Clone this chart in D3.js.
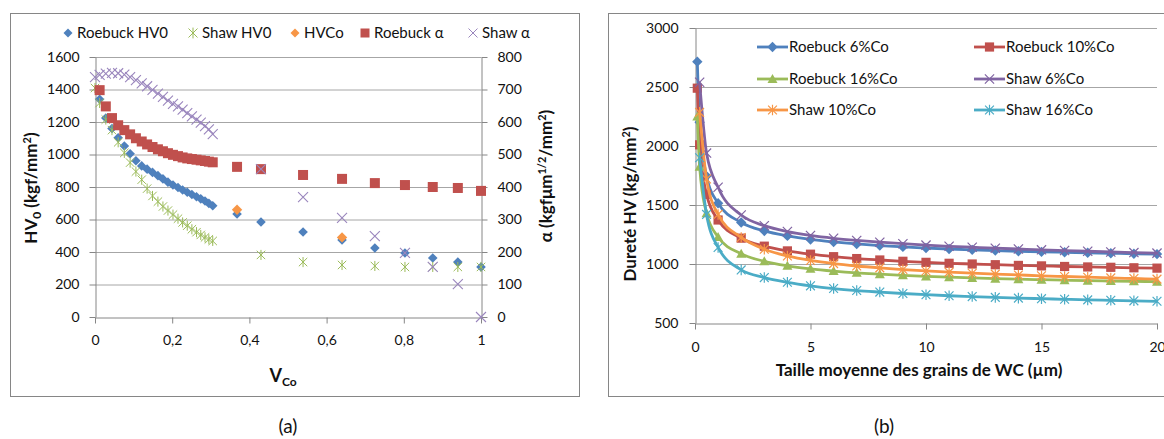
<!DOCTYPE html>
<html><head><meta charset="utf-8">
<script src="https://cdn.jsdelivr.net/npm/d3@7"></script>
<style>
body{margin:0;background:#fff}
svg{font-family:Lato,'Open Sans',sans-serif}
</style>
</head><body>
<svg id="c" width="1164" height="439"></svg>
<script>
// ---------- Chart (a) data ----------
const vcoDense = [0, 0.012, 0.028, 0.044, 0.060, 0.076, 0.091, 0.106, 0.121, 0.135, 0.149, 0.163, 0.176, 0.189, 0.202, 0.215, 0.227, 0.239, 0.251, 0.263, 0.274, 0.285, 0.295, 0.305];
const vcoSparse = [0.368, 0.43, 0.539, 0.64, 0.725, 0.803, 0.875, 0.94, 1.0];

const roebuckHV0Dense = [1340,1225,1160,1103,1052,1005,962,930,910,890,870,850,830,812,797,782,768,754,740,727,714,699,685];
const roebuckHV0Sparse = [634,585,523,474,425,394,363,338,308];
const shawHV0Dense = [1409,1317,1215,1150,1075,1010,950,895,845,790,745,710,680,655,630,605,582,562,540,522,505,490,478,468];
const shawHV0Sparse = [382,338,320,314,308,308,308,308];
const hvCoV = [0.368, 0.64];
const hvCoValues = [660, 490];
const roebuckAlphaDense = [698,648,612,590,575,562,550,540,531,523,516,510,504,499,495,491,488,486,484,482,480,478,476];
const roebuckAlphaSparse = [462,455,437,425,412,406,400,397,388];
const shawAlphaDense = [738,745,749,751,750,746,738,729,719,710,699,687,677,666,656,648,638,627,617,607,598,587,577,563];
const shawAlphaSparse = [455,369,305,249,197,154,101,0];

const hvTicks = [0,200,400,600,800,1000,1200,1400,1600];
const alphaTicks = [0,100,200,300,400,500,600,700,800];
const vcoTicks = [0,0.2,0.4,0.6,0.8,1];
const legendA = ["Roebuck HV0","Shaw HV0","HVCo","Roebuck α","Shaw α"];

// ---------- Chart (b) data ----------
const grainRoebuck = [0.1,0.2,0.5,1,2,3,4,5,6,7,8,9,10,11,12,13,14,15,16,17,18,19,20];
const grainShaw = [0.2,0.5,1,2,3,4,5,6,7,8,9,10,11,12,13,14,15,16,17,18,19,20];
const roebuck6 = [2715,2201,1745,1515,1352,1280,1238,1208,1187,1170,1156,1145,1135,1127,1120,1114,1108,1103,1099,1095,1091,1087,1084];
const roebuck10 = [2490,2010,1590,1373,1219,1151,1111,1083,1062,1046,1034,1023,1014,1006,1000,994,988,984,979,975,972,968,965];
const roebuck16 = [2250,1825,1430,1229,1086,1023,985,959,940,925,914,904,895,888,882,876,871,867,863,859,856,853,850];
const shaw6 = [2540,1940,1650,1415,1325,1275,1242,1218,1200,1185,1172,1160,1150,1142,1134,1127,1120,1114,1108,1102,1097,1092];
const shaw10 = [2285,1720,1420,1225,1125,1068,1030,1003,983,967,953,941,931,922,914,907,900,894,888,882,877,872];
const shaw16 = [1900,1420,1140,950,885,845,815,792,775,762,750,740,731,724,717,711,706,701,696,692,688,684];
const hardTicks = [500,1000,1500,2000,2500,3000];
const grainTicks = [0,5,10,15,20];
const legendB = ["Roebuck 6%Co","Roebuck 10%Co","Roebuck 16%Co","Shaw 6%Co","Shaw 10%Co","Shaw 16%Co"];

// ---------- helpers ----------
const svg = d3.select('#c');
const AX = '#868686', GRID = '#a6a6a6', TXT = '#111';
const C = {blue:'#4F81BD', red:'#C0504D', green:'#9BBB59', purple:'#8064A2', orange:'#F79646', teal:'#4BACC6'};
const comma = d3.formatLocale({decimal:",", thousands:"", grouping:[3], currency:["",""]}).format("~g");
const plain = d3.format("d");

function marker(g, type, x, y, s, color, sw){
  sw = sw || 1.2;
  if(type==='diamond'){
    g.append('path').attr('d',`M${x},${y-s}L${x+s},${y}L${x},${y+s}L${x-s},${y}Z`).attr('fill',color);
  } else if(type==='square'){
    g.append('rect').attr('x',x-s).attr('y',y-s).attr('width',2*s).attr('height',2*s).attr('fill',color);
  } else if(type==='triangle'){
    g.append('path').attr('d',`M${x},${y-s}L${x+s},${y+s*0.8}L${x-s},${y+s*0.8}Z`).attr('fill',color);
  } else if(type==='x'){
    g.append('path').attr('d',`M${x-s},${y-s}L${x+s},${y+s}M${x-s},${y+s}L${x+s},${y-s}`).attr('stroke',color).attr('stroke-width',sw).attr('fill','none');
  } else if(type==='star'){
    g.append('path').attr('d',`M${x-s},${y-s}L${x+s},${y+s}M${x-s},${y+s}L${x+s},${y-s}M${x},${y-s*1.2}L${x},${y+s*1.2}`).attr('stroke',color).attr('stroke-width',sw).attr('fill','none');
  }
}
function styleAxis(g){
  g.selectAll('path.domain').attr('stroke',AX);
  g.selectAll('.tick line').attr('stroke',AX);
  g.selectAll('.tick text').attr('fill',TXT).attr('font-size',14).attr('font-family','Lato, sans-serif');
}

// frames
svg.append('rect').attr('x',10.5).attr('y',13.5).attr('width',569).attr('height',383).attr('fill','none').attr('stroke',AX);
svg.append('rect').attr('x',608.5).attr('y',13.5).attr('width',600).attr('height',383).attr('fill','none').attr('stroke',AX);

// ================= Chart (a) =================
const xA = d3.scaleLinear([0,1],[95,481]);
const yA = d3.scaleLinear([0,1600],[317,57]);
const yA2 = d3.scaleLinear([0,800],[317,57]);
const gA = svg.append('g');

gA.selectAll('line.grid').data(hvTicks.slice(1)).join('line')
  .attr('x1',xA(0)).attr('x2',xA(1)).attr('y1',d=>yA(d)+0.5).attr('y2',d=>yA(d)+0.5)
  .attr('stroke',GRID);

const axL = gA.append('g').attr('transform',`translate(${xA(0)+0.5},0)`)
  .call(d3.axisLeft(yA).tickValues(hvTicks).tickFormat(plain).tickSizeInner(6).tickSizeOuter(0).tickPadding(10));
styleAxis(axL);
const axR = gA.append('g').attr('transform',`translate(${xA(1)+0.5},0)`)
  .call(d3.axisRight(yA2).tickValues(alphaTicks).tickFormat(plain).tickSizeInner(6).tickSizeOuter(0).tickPadding(10));
styleAxis(axR);
const axB = gA.append('g').attr('transform',`translate(0,${yA(0)+0.5})`)
  .call(d3.axisBottom(xA).tickValues(vcoTicks).tickFormat(comma).tickSizeInner(6).tickSizeOuter(0).tickPadding(12));
styleAxis(axB);

const seriesA = [
  {v: vcoDense.slice(1).concat(vcoSparse), y: roebuckHV0Dense.concat(roebuckHV0Sparse), sc: yA, type:'diamond', s:4.8, color:C.blue},
  {v: vcoDense.concat(vcoSparse.slice(1)), y: shawHV0Dense.concat(shawHV0Sparse), sc: yA, type:'star', s:4.2, color:'#9BBB59', sw:1},
  {v: hvCoV, y: hvCoValues, sc: yA, type:'diamond', s:5.2, color:C.orange},
  {v: vcoDense.slice(1).concat(vcoSparse), y: roebuckAlphaDense.concat(roebuckAlphaSparse), sc: yA2, type:'square', s:5, color:C.red},
  {v: vcoDense.concat(vcoSparse.slice(1)), y: shawAlphaDense.concat(shawAlphaSparse), sc: yA2, type:'x', s:5, color:'#9a86bd', sw:1.1}
];
seriesA.forEach(S=>{
  const g = gA.append('g');
  S.v.forEach((v,i)=>marker(g,S.type,xA(v),S.sc(S.y[i]),S.s,S.color,S.sw));
});

// legend (a)
const legAx = [68,193,295,365,473];
const legAtype = ['diamond','star','diamond','square','x'];
const legAcol = [C.blue,'#9BBB59',C.orange,C.red,'#9a86bd'];
legendA.forEach((t,i)=>{
  const g = gA.append('g');
  marker(g, legAtype[i], legAx[i], 33, 4.5, legAcol[i], 1);
  g.append('text').attr('x',legAx[i]+9).attr('y',38).attr('font-size',15).attr('fill',TXT).text(t);
});

// axis titles (a)
const tl = gA.append('text').attr('transform','translate(37,188) rotate(-90)').attr('text-anchor','middle')
  .attr('font-weight','bold').attr('font-size',17).attr('fill',TXT);
tl.append('tspan').text('HV');
tl.append('tspan').attr('font-size',12).attr('dy',4).text('0');
tl.append('tspan').attr('dy',-4).text(' (kgf/mm');
tl.append('tspan').attr('font-size',11).attr('dy',-6).text('2');
tl.append('tspan').attr('dy',6).text(')');

const tr = gA.append('text').attr('transform','translate(552,176) rotate(-90)').attr('text-anchor','middle')
  .attr('font-weight','bold').attr('font-size',17).attr('fill',TXT);
tr.append('tspan').text('α (kgfμm');
tr.append('tspan').attr('font-size',11).attr('dy',-6).text('1/2');
tr.append('tspan').attr('dy',6).text('/mm');
tr.append('tspan').attr('font-size',11).attr('dy',-6).text('2');
tr.append('tspan').attr('dy',6).text(')');

const tx = gA.append('text').attr('x',283).attr('y',382).attr('text-anchor','middle')
  .attr('font-weight','bold').attr('font-size',18).attr('fill',TXT);
tx.append('tspan').text('V');
tx.append('tspan').attr('font-size',12).attr('dy',4).text('Co');

svg.append('text').attr('x',288).attr('y',433).attr('text-anchor','middle').attr('font-size',19).attr('fill',TXT).text('(a)');

// ================= Chart (b) =================
const xB = d3.scaleLinear([0,20],[695,1157]);
const yB = d3.scaleLinear([500,3000],[323,28]);
const gB = svg.append('g');

gB.selectAll('line.grid').data(hardTicks.slice(1)).join('line')
  .attr('x1',xB(0)).attr('x2',xB(20)).attr('y1',d=>Math.round(yB(d))+0.5).attr('y2',d=>Math.round(yB(d))+0.5)
  .attr('stroke',GRID);

const bL = gB.append('g').attr('transform',`translate(${xB(0)+0.5},0)`)
  .call(d3.axisLeft(yB).tickValues(hardTicks).tickFormat(plain).tickSizeInner(6).tickSizeOuter(0).tickPadding(11));
styleAxis(bL);
const bB = gB.append('g').attr('transform',`translate(0,${yB(500)+0.5})`)
  .call(d3.axisBottom(xB).tickValues(grainTicks).tickFormat(plain).tickSizeInner(6).tickSizeOuter(0).tickPadding(13));
styleAxis(bB);

const seriesB = [
  {x: grainRoebuck, y: roebuck6, type:'diamond', s:5.2, color:C.blue},
  {x: grainRoebuck, y: roebuck10, type:'square', s:4.6, color:C.red},
  {x: grainRoebuck, y: roebuck16, type:'triangle', s:5, color:C.green},
  {x: grainShaw, y: shaw6, type:'x', s:4.6, color:C.purple, sw:1.2},
  {x: grainShaw, y: shaw10, type:'star', s:4.4, color:C.orange, sw:1.2},
  {x: grainShaw, y: shaw16, type:'star', s:4.4, color:C.teal, sw:1.2}
];
const lineB = d3.line().curve(d3.curveMonotoneX);
seriesB.forEach(S=>{
  const g = gB.append('g');
  const pts = S.x.map((x,i)=>[xB(x), yB(S.y[i])]);
  g.append('path').attr('d',lineB(pts)).attr('fill','none').attr('stroke',S.color).attr('stroke-width',2.8);
  pts.forEach(p=>marker(g,S.type,p[0],p[1],S.s,S.color,S.sw));
});

// legend (b)
const legBx = [757,974];
const legBy = [47,79,110];
legendB.forEach((t,i)=>{
  const S = seriesB[i];
  const col = i%2, row = Math.floor(i/2);
  const x0 = legBx[col], y0 = legBy[row];
  const g = gB.append('g');
  g.append('line').attr('x1',x0).attr('x2',x0+31).attr('y1',y0).attr('y2',y0).attr('stroke',S.color).attr('stroke-width',2.8);
  marker(g,S.type,x0+15.5,y0,S.s,S.color,S.sw);
  g.append('text').attr('x',x0+32).attr('y',y0+5).attr('font-size',15).attr('fill',TXT).text(t);
});

const tbl = gB.append('text').attr('transform','translate(636,204) rotate(-90)').attr('text-anchor','middle')
  .attr('font-weight','bold').attr('font-size',17).attr('fill',TXT);
tbl.append('tspan').text('Dureté HV (kg/mm');
tbl.append('tspan').attr('font-size',11).attr('dy',-6).text('2');
tbl.append('tspan').attr('dy',6).text(')');

gB.append('text').attr('x',919).attr('y',376).attr('text-anchor','middle')
  .attr('font-weight','bold').attr('font-size',17).attr('fill',TXT).text('Taille moyenne des grains de WC (µm)');

svg.append('text').attr('x',884).attr('y',433).attr('text-anchor','middle').attr('font-size',19).attr('fill',TXT).text('(b)');
</script>
</body></html>
